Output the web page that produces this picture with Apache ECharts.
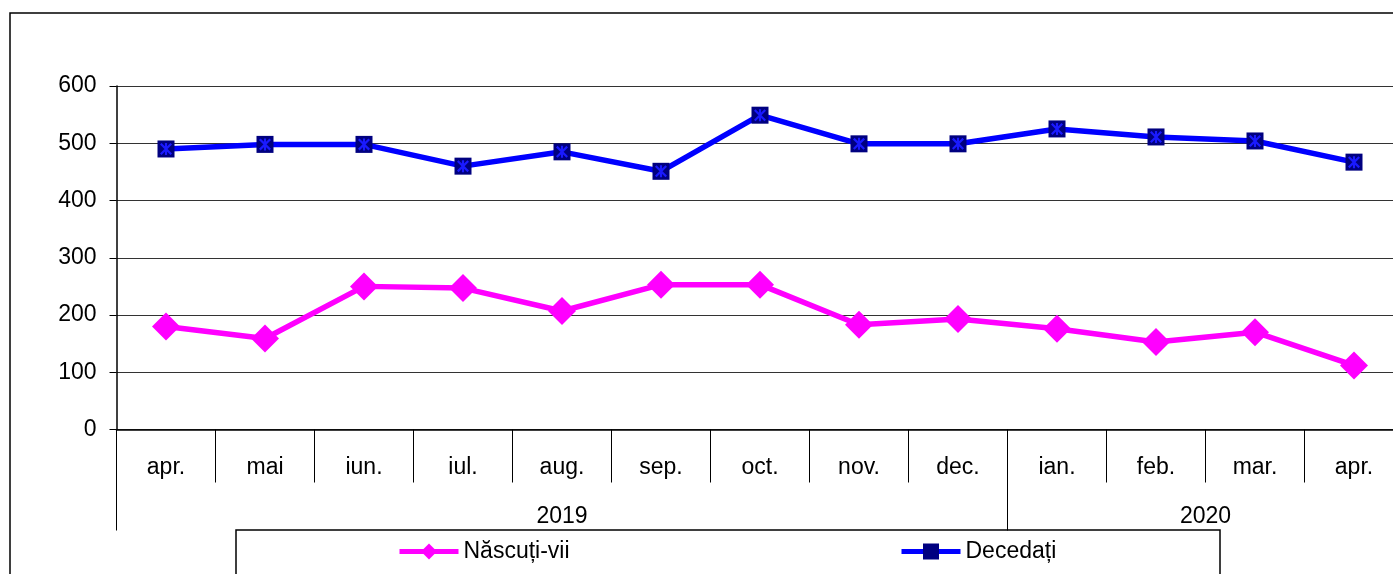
<!DOCTYPE html>
<html>
<head>
<meta charset="utf-8">
<script src="https://cdn.jsdelivr.net/npm/echarts@6/dist/echarts.min.js"></script>
<style>
html, body { margin: 0; padding: 0; background: #fff; overflow: hidden; }
#main { width: 1410px; height: 574px; }
</style>
</head>
<body>
<div id="main"></div>
<script>
// date
const months = ['apr.', 'mai', 'iun.', 'iul.', 'aug.', 'sep.', 'oct.', 'nov.', 'dec.', 'ian.', 'feb.', 'mar.', 'apr.']
const years = [
    { name: '2019', start: 0, count: 9 },
    { name: '2020', start: 9, count: 4 }
]
const nascuti = [180, 159, 250, 247, 207, 253, 253, 183, 193, 176, 153, 170, 112]
const decedati = [490, 498, 498, 460, 485, 451, 549, 499, 499, 525, 511, 504, 467]

const font = 'Liberation Sans, Arial, sans-serif'
const myChart = echarts.init(document.getElementById('main'))

// steluta din patratul albastru, desenata ca poligoane subtiri
const starPath = 'path://M4.1 0L5.9 0L5.9 10L4.1 10Z M0 1.3L1.3 0L10 8.7L8.7 10Z M8.7 0L10 1.3L1.3 10L0 8.7Z'

const legendBase = {
    orient: 'horizontal',
    top: 540,
    padding: 0,
    itemWidth: 59,
    itemHeight: 20,
    lineStyle: { width: 5 },
    textStyle: { fontSize: 23, color: '#000', fontFamily: font }
}

const option = {
    animation: false,
    textStyle: { fontFamily: font },
    grid: { left: 116.5, top: 86, right: 6.5, bottom: 144.5, containLabel: false },
    legend: [
        Object.assign({}, legendBase, { left: 397, data: ['Născuți-vii'] }),
        Object.assign({}, legendBase, { left: 899, data: ['Decedați'] })
    ],
    graphic: [
        { type: 'rect', shape: { x: 10, y: 13, width: 1420, height: 600 }, style: { fill: 'none', stroke: '#000', lineWidth: 1.5 } },
        { type: 'rect', shape: { x: 236, y: 530, width: 984, height: 80 }, style: { fill: 'none', stroke: '#000', lineWidth: 1.5 } }
    ],
    xAxis: [
        {
            type: 'category',
            data: months,
            position: 'bottom',
            boundaryGap: true,
            axisLine: { show: true, lineStyle: { color: '#000', width: 1.5 } },
            axisTick: { show: true, interval: 0, length: 53, lineStyle: { color: '#000' } },
            axisLabel: { interval: 0, fontSize: 23, color: '#000', margin: 27 },
            splitLine: { show: false }
        },
        {
            // linii de separare pentru ani
            type: 'category',
            data: months,
            position: 'bottom',
            boundaryGap: true,
            axisLine: { show: false },
            axisTick: {
                show: true,
                length: 101,
                lineStyle: { color: '#000' },
                interval: function (i) {
                    return years.some(y => y.start === i)
                }
            },
            axisLabel: { show: false },
            splitLine: { show: false }
        },
        {
            // etichete pentru ani
            type: 'value',
            position: 'bottom',
            min: 0,
            max: months.length,
            interval: 0.5,
            axisLine: { show: false },
            axisTick: { show: false },
            splitLine: { show: false },
            axisLabel: {
                fontSize: 23,
                color: '#000',
                margin: 76,
                formatter: function (v) {
                    const y = years.find(y => y.start + y.count / 2 === v)
                    return y ? y.name : ''
                }
            }
        }
    ],
    yAxis: {
        type: 'value',
        min: 0,
        max: 600,
        interval: 100,
        axisLine: { show: true, lineStyle: { color: '#000', width: 1.5 } },
        axisTick: { show: true, length: 7, lineStyle: { color: '#000' } },
        axisLabel: { fontSize: 23, color: '#000', margin: 20 },
        splitLine: { show: true, lineStyle: { color: '#333', width: 1.2 } }
    },
    series: [
        {
            name: 'Născuți-vii',
            type: 'line',
            data: nascuti,
            symbol: 'diamond',
            symbolSize: 28,
            lineStyle: { color: '#ff00ff', width: 5.5 },
            itemStyle: { color: '#ff00ff' }
        },
        {
            name: 'Decedați',
            type: 'line',
            data: decedati,
            symbol: 'rect',
            symbolSize: 17,
            lineStyle: { color: '#0000ff', width: 5.5 },
            itemStyle: { color: '#000080' }
        },
        {
            name: 'decedati-x',
            type: 'scatter',
            xAxisIndex: 0,
            data: decedati,
            silent: true,
            z: 10,
            symbol: starPath,
            symbolSize: 12,
            itemStyle: { color: '#1a1aff', opacity: 1 }
        }
    ]
}
myChart.setOption(option)
</script>
</body>
</html>
